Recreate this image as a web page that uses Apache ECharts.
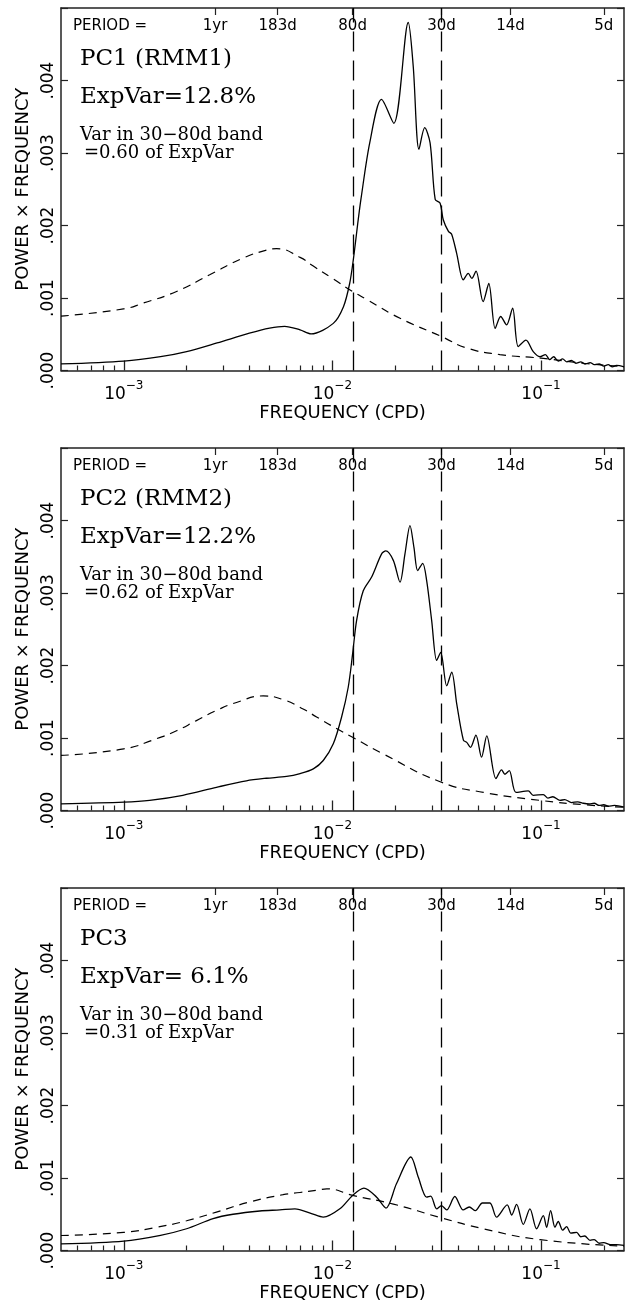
<!DOCTYPE html>
<html><head><meta charset="utf-8">
<script src="https://cdn.jsdelivr.net/npm/echarts@6/dist/echarts.min.js"></script>
<style>html,body{margin:0;padding:0;background:#fff}#c{width:625px;height:1304px}</style>
</head><body><div id="c"></div>
<script>
// ---------- data ----------
const freqMin = 0.0005, freqMax = 0.25;            // CPD, x-axis extent
const periodDays = [365, 183, 80, 30, 14, 5];
const periodLabels = ['1yr', '183d', '80d', '30d', '14d', '5d'];
const bandEdgesDays = [80, 30];
const majorTickFreqs = [0.001, 0.01, 0.1];
const yMax = 0.005, yStep = 0.001;

const panelTitles = ['PC1 (RMM1)', 'PC2 (RMM2)', 'PC3'];
const expVarLabels = ['ExpVar=12.8%', 'ExpVar=12.2%', 'ExpVar= 6.1%'];
const bandFracLabels = ['=0.60 of ExpVar', '=0.62 of ExpVar', '=0.31 of ExpVar'];

// [frequency (CPD), power x frequency]
const pc1Spectrum = [[0.0005,0.00009],[0.001,0.00013],[0.0015,0.00019],[0.002,0.00026],[0.0028,0.00038],[0.004,0.000515],[0.005,0.000585],[0.0059,0.00061],[0.007,0.00056],[0.0079,0.000505],[0.0101,0.00065],[0.0113,0.00088],[0.0121,0.0012],[0.0126,0.00153],[0.0133,0.00208],[0.0137,0.00236],[0.0151,0.00314],[0.0172,0.00374],[0.0197,0.00341],[0.0231,0.0048],[0.0244,0.0042],[0.026,0.00305],[0.0277,0.00335],[0.0294,0.00314],[0.0311,0.00236],[0.0328,0.00231],[0.034,0.00208],[0.036,0.00192],[0.0373,0.00188],[0.0394,0.00162],[0.0424,0.00125],[0.0448,0.00134],[0.0466,0.00127],[0.0488,0.00137],[0.0528,0.00095],[0.0562,0.0012],[0.0603,0.00058],[0.0641,0.000745],[0.0684,0.00063],[0.0731,0.00086],[0.0778,0.00033],[0.0847,0.00042],[0.0918,0.00026],[0.0989,0.00019],[0.105,0.00022],[0.11,0.00015],[0.115,0.00019],[0.121,0.00013],[0.127,0.00016],[0.133,0.00012],[0.14,0.00014],[0.147,0.0001],[0.155,0.00012],[0.163,0.00009],[0.172,0.00011],[0.18,0.00008],[0.19,0.00009],[0.2,0.00006],[0.21,0.00008],[0.22,0.00005],[0.23,0.00007],[0.25,0.00005]];
const pc1RedNoise = [[0.0005,0.00075],[0.001,0.00085],[0.00124,0.00093],[0.00179,0.00109],[0.00258,0.00132],[0.00373,0.00155],[0.00483,0.00166],[0.0054,0.00168],[0.007,0.00156],[0.0081,0.00144],[0.01,0.00127],[0.0125,0.00109],[0.0146,0.00098],[0.0211,0.00072],[0.0333,0.00047],[0.0441,0.00031],[0.0635,0.00022],[0.1,0.00017],[0.159,0.0001],[0.25,0.000054]];

const pc2Spectrum = [[0.0005,0.00009],[0.001,0.000115],[0.00133,0.00014],[0.00192,0.00021],[0.00278,0.00032],[0.00387,0.00041],[0.00483,0.000445],[0.00603,0.00047],[0.007,0.00051],[0.0081,0.000575],[0.00904,0.00069],[0.0101,0.00092],[0.01107,0.00129],[0.01191,0.0017],[0.0125,0.00216],[0.01306,0.00262],[0.01406,0.00303],[0.01542,0.00322],[0.01722,0.00354],[0.01803,0.00358],[0.01959,0.00345],[0.02109,0.00315],[0.02228,0.00354],[0.02355,0.00393],[0.0246,0.00363],[0.02564,0.00331],[0.0271,0.00341],[0.02831,0.00317],[0.02992,0.00262],[0.03162,0.00207],[0.03304,0.00218],[0.03532,0.00172],[0.03733,0.00191],[0.03945,0.00147],[0.04246,0.00097],[0.04406,0.00094],[0.04592,0.00087],[0.04875,0.00104],[0.05188,0.000735],[0.05495,0.00103],[0.06081,0.00044],[0.06471,0.00056],[0.06714,0.0005],[0.07047,0.00055],[0.07586,0.00025],[0.0869,0.00027],[0.0918,0.00021],[0.1026,0.00022],[0.108,0.00017],[0.114,0.00019],[0.1233,0.00014],[0.13,0.00015],[0.14,0.00011],[0.15,0.00012],[0.1596,0.0001],[0.17,0.00009],[0.18,0.0001],[0.19,0.00007],[0.2,0.00008],[0.21,0.00006],[0.225,0.00007],[0.25,0.000045]];
const pc2RedNoise = [[0.0005,0.00076],[0.001,0.00085],[0.001435,0.00099],[0.00179,0.0011],[0.00223,0.00124],[0.00278,0.00138],[0.00347,0.00149],[0.00466,0.00158],[0.0058,0.00153],[0.00724,0.0014],[0.0084,0.00129],[0.01047,0.00113],[0.0125,0.00101],[0.01754,0.00078],[0.0333,0.00039],[0.053,0.00025],[0.0989,0.00014],[0.16,0.00008],[0.25,0.000045]];

const pc3Spectrum = [[0.0005,0.00009],[0.001,0.00013],[0.0015,0.00021],[0.002,0.0003],[0.00268,0.00044],[0.00334,0.0005],[0.00449,0.000545],[0.0056,0.00056],[0.00661,0.000575],[0.00794,0.00051],[0.00904,0.00046],[0.01086,0.000575],[0.0125,0.00076],[0.01416,0.00086],[0.0163,0.000735],[0.01807,0.000585],[0.02028,0.00092],[0.02377,0.00129],[0.02582,0.00101],[0.02831,0.000735],[0.0296,0.00075],[0.03162,0.000575],[0.03334,0.00062],[0.0353,0.00056],[0.03864,0.000745],[0.04236,0.00056],[0.04529,0.0006],[0.0485,0.00055],[0.05236,0.000655],[0.05689,0.000655],[0.06124,0.00046],[0.06887,0.00063],[0.0724,0.00049],[0.07638,0.000635],[0.08222,0.00036],[0.08851,0.000575],[0.09528,0.0003],[0.1026,0.00048],[0.1064,0.00032],[0.1112,0.00055],[0.1167,0.00032],[0.121,0.0004],[0.127,0.00028],[0.1327,0.00033],[0.139,0.00024],[0.1483,0.00025],[0.155,0.00019],[0.162,0.0002],[0.1718,0.00014],[0.18,0.00015],[0.19,0.0001],[0.2,0.00011],[0.215,0.00008],[0.23,0.00008],[0.25,0.00007]];
const pc3RedNoise = [[0.0005,0.000207],[0.001,0.00025],[0.001435,0.00032],[0.002,0.00041],[0.00278,0.00053],[0.00402,0.00067],[0.0058,0.00077],[0.007,0.0008],[0.0084,0.00083],[0.0094,0.00085],[0.0125,0.00076],[0.0196,0.00064],[0.0333,0.00045],[0.0528,0.0003],[0.0989,0.00015],[0.25,0.00006]];

const spectra = [pc1Spectrum, pc2Spectrum, pc3Spectrum];
const redNoises = [pc1RedNoise, pc2RedNoise, pc3RedNoise];

// ---------- layout ----------
const PANEL_TOPS = [8, 448, 888];
const PANEL_H = 362.5;
const GRID_LEFT = 61, GRID_RIGHT = 1;
const AX = '#222';
const SANS = '"DejaVu Sans", sans-serif';
const SERIF = '"DejaVu Serif", serif';

const lg = Math.log10;
const xMin = lg(freqMin), xMax = lg(freqMax);
const majorTicks = majorTickFreqs.map(lg);
const minorTicks = [];
for (let e = -4; e <= -1; e++) {
  for (let k = 2; k <= 9; k++) {
    const f = k * Math.pow(10, e);
    if (f > freqMin * 1.0001 && f < freqMax * 0.9999) minorTicks.push(lg(f));
  }
}
const periodTicks = periodDays.map(d => lg(1 / d));
function periodLabelFor(v) {
  for (let i = 0; i < periodTicks.length; i++) if (Math.abs(periodTicks[i] - v) < 1e-6) return periodLabels[i];
  return '';
}
const toXY = arr => arr.map(p => [lg(p[0]), p[1]]);

const grids = [], xAxes = [], yAxes = [], series = [], graphics = [];
for (let i = 0; i < 3; i++) {
  const top = PANEL_TOPS[i];
  grids.push({left: GRID_LEFT, right: GRID_RIGHT, top: top, height: PANEL_H});
  // bottom major
  xAxes.push({
    gridIndex: i, type: 'value', position: 'bottom', min: xMin, max: xMax,
    axisLine: {show: true, onZero: false, lineStyle: {color: AX, width: 1.5}},
    axisTick: {show: true, inside: true, length: 10, customValues: majorTicks, lineStyle: {color: AX, width: 1.3}},
    axisLabel: {
      show: true, customValues: majorTicks, margin: 9,
      formatter: v => '{b|10}{s|' + String(Math.round(v)).replace('-', '\u2212') + '}',
      rich: {
        b: {fontFamily: SANS, fontSize: 17, color: '#000', lineHeight: 24, verticalAlign: 'bottom'},
        s: {fontFamily: SANS, fontSize: 12, color: '#000', lineHeight: 13, verticalAlign: 'top'}
      }
    },
    splitLine: {show: false},
    name: 'FREQUENCY (CPD)', nameLocation: 'middle', nameGap: 32,
    nameTextStyle: {fontFamily: SANS, fontSize: 18, color: '#000'}
  });
  // bottom minor ticks
  xAxes.push({
    gridIndex: i, type: 'value', position: 'bottom', min: xMin, max: xMax,
    axisLine: {show: false, onZero: false},
    axisTick: {show: true, inside: true, length: 5, customValues: minorTicks, lineStyle: {color: AX, width: 1.2}},
    axisLabel: {show: false}, splitLine: {show: false}
  });
  // top period axis
  xAxes.push({
    gridIndex: i, type: 'value', position: 'top', min: xMin, max: xMax,
    axisLine: {show: true, onZero: false, lineStyle: {color: AX, width: 1.5}},
    axisTick: {show: true, inside: true, length: 7, customValues: periodTicks, lineStyle: {color: AX, width: 1.2}},
    axisLabel: {show: true, inside: true, customValues: periodTicks, margin: 11,
      formatter: v => periodLabelFor(v), fontFamily: SANS, fontSize: 15, color: '#000'},
    splitLine: {show: false}
  });
  // left y
  yAxes.push({
    gridIndex: i, type: 'value', position: 'left', min: 0, max: yMax, interval: yStep,
    axisLine: {show: true, onZero: false, lineStyle: {color: AX, width: 1.5}},
    axisTick: {show: true, inside: true, length: 7, lineStyle: {color: AX, width: 1.2}},
    axisLabel: {rotate: 90, margin: 4, fontFamily: SANS, fontSize: 17, color: '#000',
      formatter: v => v > yMax - yStep / 2 ? '' : '.' + String(Math.round(v * 1000)).padStart(3, '0')},
    splitLine: {show: false},
    name: 'POWER \u00d7 FREQUENCY', nameLocation: 'middle', nameGap: 28, nameRotate: 90,
    nameTextStyle: {fontFamily: SANS, fontSize: 18, color: '#000'}
  });
  // right y
  yAxes.push({
    gridIndex: i, type: 'value', position: 'right', min: 0, max: yMax, interval: yStep,
    axisLine: {show: true, onZero: false, lineStyle: {color: AX, width: 1.5}},
    axisTick: {show: true, inside: true, length: 7, lineStyle: {color: AX, width: 1.2}},
    axisLabel: {show: false}, splitLine: {show: false}
  });
  series.push({
    type: 'line', xAxisIndex: 3 * i, yAxisIndex: 2 * i, data: toXY(spectra[i]),
    symbol: 'none', showSymbol: false, smooth: 0.3,
    lineStyle: {color: '#000', width: 1.3}, z: 3,
    markLine: {
      silent: true, symbol: ['none', 'none'], label: {show: false},
      lineStyle: {color: '#000', width: 1.3, type: [20, 9]},
      data: bandEdgesDays.map(d => ({xAxis: lg(1 / d)}))
    }
  });
  series.push({
    type: 'line', xAxisIndex: 3 * i, yAxisIndex: 2 * i, data: toXY(redNoises[i]),
    symbol: 'none', showSymbol: false, smooth: 0.5,
    lineStyle: {color: '#000', width: 1.2, type: [8, 6]}, z: 2
  });
  const txt = (text, x, y, font) => ({
    type: 'text', x: x, y: y, silent: true,
    style: {text: text, font: font, fill: '#000', align: 'left', verticalAlign: 'middle',
      textAlign: 'left', textVerticalAlign: 'middle'}
  });
  graphics.push(txt('PERIOD =', 73, top + 18, '15px ' + SANS));
  graphics.push(txt(panelTitles[i], 80, top + 51, '23px ' + SERIF));
  graphics.push(txt(expVarLabels[i], 80, top + 89, '23px ' + SERIF));
  graphics.push(txt('Var in 30\u221280d band', 80, top + 127, '18px ' + SERIF));
  graphics.push(txt(bandFracLabels[i], 84, top + 145, '18px ' + SERIF));
}

const chart = echarts.init(document.getElementById('c'), null, {renderer: 'canvas', width: 625, height: 1304});
chart.setOption({
  animation: false,
  backgroundColor: '#fff',
  grid: grids, xAxis: xAxes, yAxis: yAxes, series: series,
  graphic: graphics
});
</script></body></html>
